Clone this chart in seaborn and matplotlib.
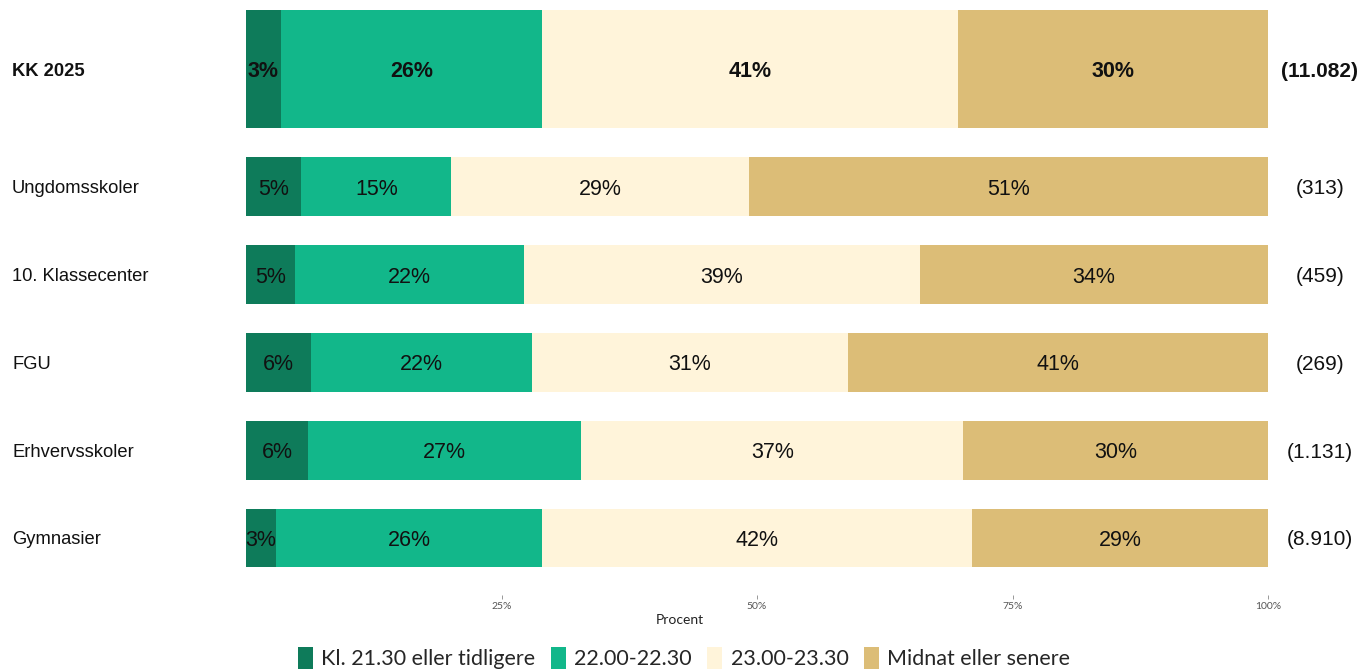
import matplotlib
matplotlib.use("Agg")
import matplotlib.pyplot as plt
import matplotlib.transforms as mtransforms
from matplotlib.patches import Patch
import pandas as pd
import seaborn as sns

groups = ["KK 2025", "Ungdomsskoler", "10. Klassecenter", "FGU", "Erhvervsskoler", "Gymnasier"]
counts = ["(11.082)", "(313)", "(459)", "(269)", "(1.131)", "(8.910)"]
categories = ["Kl. 21.30 eller tidligere", "22.00-22.30", "23.00-23.30", "Midnat eller senere"]
early = [3.4, 5.4, 4.8, 6.4, 6.1, 2.9]
mid = [25.6, 14.7, 22.4, 21.6, 26.7, 26.1]
late = [40.7, 29.1, 38.7, 30.9, 37.4, 42.0]
midnight = [30.3, 50.8, 34.1, 41.1, 29.8, 29.0]
colors = ["#0E7B5A", "#12B78A", "#FFF4DA", "#DCBD77"]

# KK 2025 gets a double-height bar on top
positions = [-0.34, 1, 2, 3, 4, 5]
heights = [1.34, 0.67, 0.67, 0.67, 0.67, 0.67]

rows = []
for i, g in enumerate(groups):
    cum = 0
    for cat, vals in zip(categories, [early, mid, late, midnight]):
        v = vals[i]
        rows.append({"group": g, "pos": positions[i], "cat": cat, "value": v,
                     "start": cum, "end": cum + v})
        cum += v
df = pd.DataFrame(rows)

sns.set_theme(style="white")
plt.rcParams["font.family"] = ["Liberation Sans", "DejaVu Sans"]

fig = plt.figure(figsize=(13.6, 6.7), dpi=100)
ax = fig.add_axes([0.1809, 0.1119, 0.7515, 0.8806])

# draw cumulative bars from the right end backwards so they stack
for cat, col in reversed(list(zip(categories, colors))):
    sub = df[df["cat"] == cat]
    kk = sub[sub["group"] == "KK 2025"]
    rest = sub[sub["group"] != "KK 2025"]
    sns.barplot(data=rest, x="end", y="pos", orient="y", native_scale=True,
                width=heights[1], color=col, saturation=1, errorbar=None,
                linewidth=0, ax=ax)
    sns.barplot(data=kk, x="end", y="pos", orient="y", native_scale=True,
                width=heights[0], color=col, saturation=1, errorbar=None,
                linewidth=0, ax=ax)

for _, r in df.iterrows():
    bold = r["group"] == "KK 2025"
    ax.text((r["start"] + r["end"]) / 2, r["pos"], f"{round(r['value'])}%",
            ha="center", va="center_baseline", fontsize=15.5, color="#111111",
            fontweight="bold" if bold else "normal")

trans = mtransforms.blended_transform_factory(fig.transFigure, ax.transData)
for g, c, p in zip(groups, counts, positions):
    bold = g == "KK 2025"
    ax.text(12 / 1360, p, g, transform=trans, ha="left", va="center_baseline",
            fontsize=13.2, color="#111111", fontweight="bold" if bold else "normal")
    ax.text(1320 / 1360, p, c, transform=trans, ha="center", va="center_baseline",
            fontsize=15, color="#111111", fontweight="bold" if bold else "normal")

ax.set_xlim(0, 100)
ax.set_ylim(5.65, -1.07)
ax.set_yticks([])
ax.set_ylabel("")
ax.set_xlabel("")
ax.set_xticks([25, 50, 75, 100])
ax.set_xticklabels(["25%", "50%", "75%", "100%"], fontsize=7.5, color="#555555",
                   family="Lato")
ax.tick_params(axis="x", length=3, width=0.6, color="#888888", pad=2, bottom=True)
for s in ax.spines.values():
    s.set_visible(False)

fig.text(0.5, 1 - 620 / 670, "Procent", ha="center", va="center",
         fontsize=10, color="#222222", family="Lato")

handles = [Patch(facecolor=c, edgecolor="none") for c in colors]
fig.legend(handles, categories, loc="center", bbox_to_anchor=(0.503, 12 / 670),
           ncol=4, frameon=False, handlelength=0.7, handleheight=1.25,
           handletextpad=0.4, columnspacing=0.7,
           prop={"family": "Lato", "size": 15.5})

fig.savefig("out.png", dpi=100)
